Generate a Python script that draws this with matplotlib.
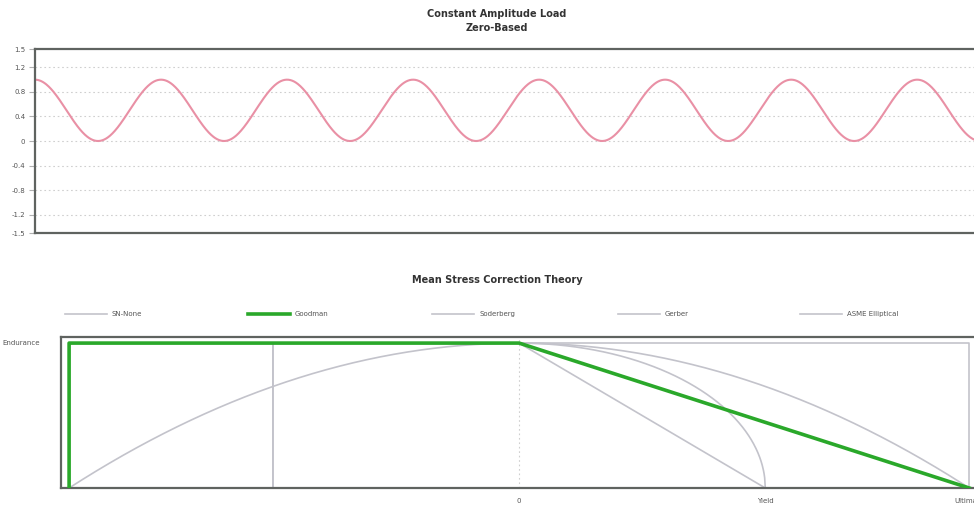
import numpy as np
import matplotlib
matplotlib.use("Agg")
import matplotlib.pyplot as plt
from matplotlib.lines import Line2D

plt.rcParams['font.family'] = ['DejaVu Sans']

# ---- Constant amplitude load (zero-based) ----
load_mean = 0.5
load_amplitude = 0.5
load_cycles = 7.53
load_yticks = [-1.5, -1.2, -0.8, -0.4, 0, 0.4, 0.8, 1.2, 1.5]
load_ylabels = ["-1.5", "-1.2", "-0.8", "-0.4", "0", "0.4", "0.8", "1.2", "1.5"]

# ---- Mean stress correction (normalised stresses) ----
endurance = 1.0      # Se
yield_str = 0.547    # Sy
ultimate = 1.0       # Su
series_names = ["SN-None", "Goodman", "Soderberg", "Gerber", "ASME Elliptical"]
xtick_labels = ["0", "Yield", "Ultimate"]

grey = "#c3c3cb"
green = "#2aa82a"
frame = "#5f6360"

fig = plt.figure(figsize=(9.74, 5.08), dpi=100)
W, H = 974, 508


def box(l, t, r, b):
    return [l / W, 1 - b / H, (r - l) / W, (b - t) / H]


# ---------------- top chart ----------------
ax1 = fig.add_axes(box(35, 49, 984, 233))
t = np.linspace(0, load_cycles, 2000)
y = load_mean + load_amplitude * np.cos(2 * np.pi * t)
ax1.plot(t, y, color="#e990a5", lw=1.5, solid_capstyle="round")
ax1.set_xlim(0, load_cycles)
ax1.set_ylim(-1.5, 1.5)
ax1.set_yticks(load_yticks)
ax1.set_yticklabels(load_ylabels)
ax1.set_xticks([])
ax1.tick_params(axis="y", length=4, width=0.8, color="#b0b0b0",
                labelsize=5, labelcolor="#555555", pad=3)
for v in load_yticks[1:-1]:
    ax1.axhline(v, color="#cfcfcf", lw=0.8, ls=(0, (1.5, 2.5)), zorder=0)
for s in ax1.spines.values():
    s.set_color(frame)
    s.set_linewidth(1.6)
ax1.spines["right"].set_visible(False)

fig.text(497 / W, 1 - 14 / H, "Constant Amplitude Load", ha="center", va="center",
         fontsize=7, fontweight="bold", color="#333333")
fig.text(497 / W, 1 - 28 / H, "Zero-Based", ha="center", va="center",
         fontsize=7, fontweight="bold", color="#333333")

# ---------------- bottom chart ----------------
ax2 = fig.add_axes(box(61, 337, 984, 488))
Se, Sy, Su = endurance, yield_str, ultimate

curves = {}
curves["SN-None"] = ([-Su, -Su, Su, Su], [0, Se, Se, 0])
curves["Soderberg"] = ([-Sy, -Sy, 0, Sy], [0, Se, Se, 0])
sm_g = np.linspace(-Su, Su, 400)
curves["Gerber"] = (sm_g, Se * (1 - (sm_g / Su) ** 2))
sm_a = np.linspace(0, Sy, 400)
curves["ASME Elliptical"] = (np.r_[-Sy, -Sy, sm_a],
                             np.r_[0, Se, Se * np.sqrt(np.clip(1 - (sm_a / Sy) ** 2, 0, 1))])
curves["Goodman"] = ([-Su, -Su, 0, Su], [0, Se, Se, 0])

ax2.axvline(0, color="#cfcfcf", lw=0.8, ls=(0, (1.5, 2.5)), zorder=0)
for name in ["SN-None", "Soderberg", "Gerber", "ASME Elliptical"]:
    xs, ys = curves[name]
    ax2.plot(xs, ys, color=grey, lw=1.2, zorder=2)
xs, ys = curves["Goodman"]
ax2.plot(xs, ys, color=green, lw=2.6, zorder=3)

ax2.set_xlim(-1.018, 1.033)
ax2.set_ylim(0, 1.042)
ax2.set_xticks([0, Sy, Su])
ax2.set_xticklabels(xtick_labels)
ax2.set_yticks([Se])
ax2.set_yticklabels(["Endurance"])
ax2.tick_params(axis="both", length=0, labelsize=5, labelcolor="#555555")
ax2.tick_params(axis="x", pad=7)
ax2.tick_params(axis="y", pad=15)
for lbl in ax2.get_yticklabels():
    lbl.set_va("center")
for s in ax2.spines.values():
    s.set_color(frame)
    s.set_linewidth(1.6)
ax2.spines["right"].set_visible(False)

fig.text(497 / W, 1 - 280 / H, "Mean Stress Correction Theory", ha="center", va="center",
         fontsize=7, fontweight="bold", color="#333333")

# legend row
leg_y = 1 - 314 / H
leg_x = [65, 248, 432, 618, 800]
for name, x0 in zip(series_names, leg_x):
    is_g = name == "Goodman"
    fig.add_artist(Line2D([x0 / W, (x0 + 42) / W], [leg_y, leg_y],
                          transform=fig.transFigure,
                          color=green if is_g else grey,
                          lw=2.6 if is_g else 1.2))
    fig.text((x0 + 47) / W, leg_y, name, ha="left", va="center",
             fontsize=5, color="#555555")

fig.savefig("out.png", dpi=100)
